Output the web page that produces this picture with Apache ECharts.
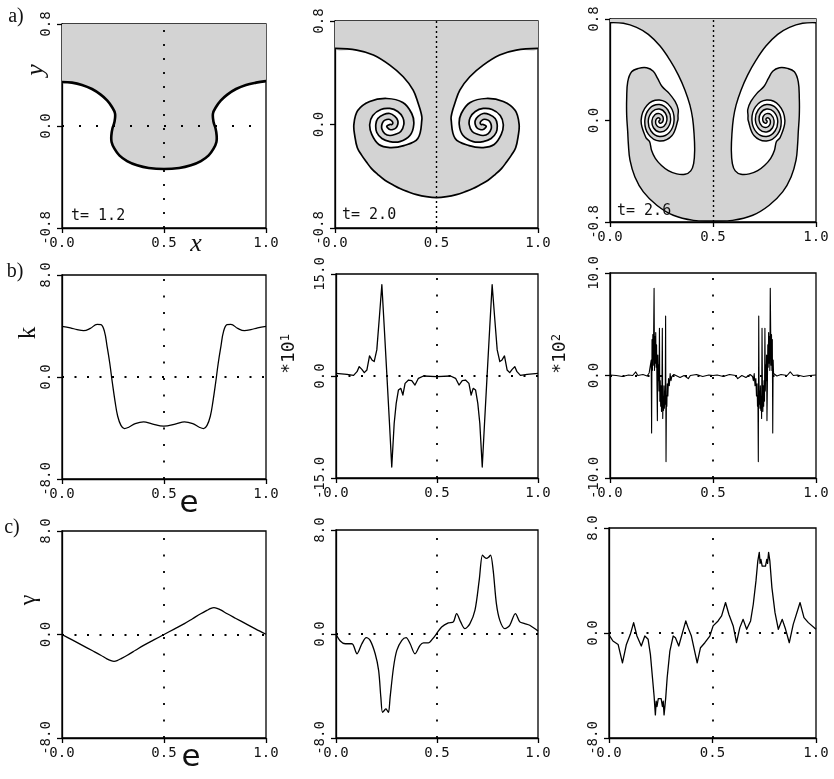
<!DOCTYPE html>
<html>
<head>
<meta charset="utf-8">
<script src="https://cdn.jsdelivr.net/npm/echarts/dist/echarts.min.js"></script>
<style>
  html, body { margin: 0; padding: 0; background: #fff; }
  #chart { width: 834px; height: 779px; }
</style>
</head>
<body>
<div id="chart"></div>
<script>
// ---- tick values ----
const eTicks = [0, 0.5, 1];
const yTicksInterface = [-0.8, 0, 0.8];
const yTicksK12 = [-8, 0, 8];
const yTicksK20 = [-15, 0, 15];
const yTicksK26 = [-10, 0, 10];
const yTicksGamma = [-8, 0, 8];
const timeLabels = ['t= 1.2', 't= 2.0', 't= 2.6'];

// ---- interface position (x, y) from left wall to right wall ----
const interfaceT12 = [
  [0,0.345],[0.049,0.340],[0.098,0.322],[0.147,0.290],[0.188,0.248],[0.221,0.201],[0.245,0.149],
  [0.260,0.097],[0.257,0.031],[0.247,-0.021],[0.242,-0.073],[0.243,-0.125],[0.257,-0.178],[0.281,-0.230],
  [0.319,-0.275],[0.368,-0.308],[0.425,-0.329],[0.5,-0.337],[0.575,-0.329],[0.632,-0.308],[0.681,-0.275],
  [0.719,-0.230],[0.743,-0.178],[0.757,-0.125],[0.758,-0.073],[0.753,-0.021],[0.743,0.031],[0.740,0.097],
  [0.755,0.149],[0.779,0.201],[0.812,0.248],[0.853,0.290],[0.902,0.322],[0.951,0.340],[1,0.352]
];

const interfaceT20 = [
  [0,0.588],[0.107,0.575],[0.189,0.537],[0.270,0.459],[0.336,0.369],[0.385,0.266],[0.410,0.163],[0.424,0.090],
  [0.428,0.039],[0.408,-0.108],[0.339,-0.163],[0.270,-0.178],[0.216,-0.155],[0.181,-0.077],[0.171,0.000],
  [0.186,0.070],[0.226,0.116],[0.270,0.124],[0.309,0.101],[0.334,0.054],[0.339,0.000],[0.324,-0.054],
  [0.295,-0.077],[0.270,-0.085],[0.245,-0.070],[0.231,-0.035],[0.231,0.000],[0.240,0.027],[0.255,0.039],
  [0.270,0.039],[0.280,0.027],[0.285,0.012],[0.280,0.000],[0.270,0.000],
  [0.255,-0.012],[0.260,-0.027],[0.270,-0.039],[0.285,-0.039],[0.300,-0.027],[0.309,0.000],[0.309,0.031],
  [0.295,0.062],[0.270,0.085],[0.240,0.077],[0.211,0.046],[0.201,0.000],[0.206,-0.062],[0.231,-0.108],
  [0.270,-0.132],[0.319,-0.132],[0.369,-0.085],[0.388,0.000],[0.378,0.085],[0.334,0.170],[0.255,0.201],
  [0.171,0.178],[0.112,0.108],[0.093,0.000],[0.098,-0.093],
  [0.110,-0.180],[0.131,-0.237],[0.155,-0.290],[0.180,-0.341],[0.210,-0.385],[0.246,-0.431],[0.285,-0.466],
  [0.320,-0.495],[0.360,-0.520],[0.402,-0.542],[0.450,-0.558],[0.500,-0.565],
  [0.550,-0.558],[0.598,-0.542],[0.640,-0.520],[0.680,-0.495],[0.715,-0.466],[0.754,-0.431],[0.790,-0.385],
  [0.820,-0.341],[0.845,-0.290],[0.869,-0.237],[0.890,-0.180],
  [0.902,-0.093],[0.907,0.000],[0.888,0.108],[0.829,0.178],[0.745,0.201],[0.666,0.170],[0.622,0.085],
  [0.612,0.000],[0.631,-0.085],[0.681,-0.132],[0.730,-0.132],[0.769,-0.108],[0.794,-0.062],[0.799,0.000],
  [0.789,0.046],[0.760,0.077],[0.730,0.085],[0.705,0.062],[0.691,0.031],[0.691,0.000],[0.700,-0.027],
  [0.715,-0.039],[0.730,-0.039],[0.740,-0.027],[0.745,-0.012],[0.730,0.000],
  [0.720,0.000],[0.715,0.012],[0.720,0.027],[0.730,0.039],[0.745,0.039],[0.760,0.027],[0.769,0.000],
  [0.769,-0.035],[0.755,-0.070],[0.730,-0.085],[0.705,-0.077],[0.676,-0.054],[0.661,0.000],[0.666,0.054],
  [0.691,0.101],[0.730,0.124],[0.774,0.116],[0.814,0.070],[0.829,0.000],[0.819,-0.077],[0.784,-0.155],
  [0.730,-0.178],[0.661,-0.163],[0.592,-0.108],[0.572,0.039],
  [0.576,0.090],[0.590,0.163],[0.615,0.266],[0.664,0.369],[0.730,0.459],[0.811,0.537],[0.893,0.575],[1,0.588]
];

const interfaceT26 = [
  [0,0.771],[0.065,0.766],[0.129,0.734],[0.186,0.679],[0.243,0.587],[0.291,0.476],[0.332,0.358],[0.364,0.239],
  [0.388,0.121],[0.401,0.016],[0.408,-0.103],[0.411,-0.234],[0.406,-0.339],[0.392,-0.397],[0.364,-0.424],
  [0.324,-0.421],[0.283,-0.395],[0.250,-0.355],[0.220,-0.298],[0.202,-0.236],
  [0.192,-0.166],[0.174,-0.134],[0.151,0],[0.180,0.121],[0.240,0.162],[0.294,0.108],[0.311,0],[0.288,-0.095],
  [0.240,-0.126],[0.199,-0.083],[0.186,0],[0.206,0.070],[0.240,0.090],[0.269,0.057],[0.276,0],[0.262,-0.045],
  [0.240,-0.054],[0.224,-0.032],[0.222,0],[0.230,0.019],[0.240,0.018],[0.243,0.006],[0.240,0],
  [0.237,-0.006],[0.240,-0.018],[0.250,-0.019],[0.258,0],[0.256,0.032],[0.240,0.054],[0.218,0.045],[0.204,0],
  [0.211,-0.057],[0.240,-0.090],[0.274,-0.070],[0.294,0],[0.281,0.083],[0.240,0.126],[0.192,0.095],[0.169,0],
  [0.186,-0.108],[0.240,-0.162],[0.300,-0.121],[0.329,0],[0.330,0.040],
  [0.331,0.088],[0.316,0.150],[0.288,0.212],[0.252,0.270],[0.231,0.332],[0.210,0.389],[0.178,0.416],
  [0.138,0.411],[0.105,0.384],[0.086,0.305],[0.081,0.174],[0.081,0.042],[0.086,-0.089],[0.089,-0.182],
  [0.097,-0.313],[0.121,-0.445],[0.162,-0.563],[0.227,-0.668],[0.307,-0.747],[0.405,-0.787],[0.5,-0.792],
  [0.595,-0.787],[0.693,-0.747],[0.773,-0.668],[0.838,-0.563],[0.879,-0.445],[0.903,-0.313],[0.911,-0.182],
  [0.914,-0.089],[0.919,0.042],[0.919,0.174],[0.914,0.305],[0.895,0.384],[0.862,0.411],[0.822,0.416],
  [0.790,0.389],[0.769,0.332],[0.748,0.270],[0.712,0.212],[0.684,0.150],[0.669,0.088],
  [0.670,0.040],[0.671,0],[0.700,-0.121],[0.760,-0.162],[0.814,-0.108],[0.831,0],[0.808,0.095],[0.760,0.126],
  [0.719,0.083],[0.706,0],[0.726,-0.070],[0.760,-0.090],[0.789,-0.057],[0.796,0],[0.782,0.045],[0.760,0.054],
  [0.744,0.032],[0.742,0],[0.750,-0.019],[0.760,-0.018],[0.763,-0.006],[0.760,0],
  [0.757,0.006],[0.760,0.018],[0.770,0.019],[0.778,0],[0.776,-0.032],[0.760,-0.054],[0.738,-0.045],[0.724,0],
  [0.731,0.057],[0.760,0.090],[0.794,0.070],[0.814,0],[0.801,-0.083],[0.760,-0.126],[0.712,-0.095],[0.689,0],
  [0.706,0.108],[0.760,0.162],[0.820,0.121],[0.849,0],[0.826,-0.134],[0.808,-0.166],
  [0.798,-0.236],[0.780,-0.298],[0.750,-0.355],[0.717,-0.395],[0.676,-0.421],[0.636,-0.424],[0.608,-0.397],
  [0.594,-0.339],[0.589,-0.234],[0.592,-0.103],[0.599,0.016],[0.612,0.121],[0.636,0.239],[0.668,0.358],
  [0.709,0.476],[0.757,0.587],[0.814,0.679],[0.871,0.734],[0.935,0.766],[1,0.771]
];

// ---- curvature k(e) ----
const curvatureT12 = [
  [0,3.97],[0.041,3.86],[0.074,3.71],[0.106,3.63],[0.139,3.81],[0.172,4.13],[0.191,4.10],[0.208,3.58],
  [0.221,2.40],[0.234,1.10],[0.247,-0.47],[0.260,-1.91],[0.273,-3.08],[0.289,-3.79],[0.306,-4.05],
  [0.327,-3.94],[0.359,-3.66],[0.400,-3.52],[0.441,-3.68],[0.498,-3.86],[0.559,-3.68],[0.600,-3.52],
  [0.641,-3.66],[0.673,-3.94],[0.694,-4.05],[0.711,-3.79],[0.727,-3.08],[0.740,-1.91],[0.753,-0.47],
  [0.766,1.10],[0.779,2.40],[0.792,3.58],[0.809,4.10],[0.828,4.13],[0.861,3.81],[0.894,3.63],[0.926,3.71],
  [0.959,3.86],[1,3.97]
];
// values in units of 10^1
const curvatureT20 = [
  [0,0.39],[0.054,0.25],[0.087,0.10],[0.104,0.64],[0.115,1.38],[0.128,0.98],[0.140,0.49],[0.153,0.89],
  [0.166,2.95],[0.178,2.36],[0.189,2.12],[0.202,3.84],[0.215,8.76],[0.227,13.43],[0.239,7.1],[0.252,0.05],
  [0.265,-7.1],[0.276,-13.38],[0.288,-6.98],[0.298,-4.03],[0.309,-2.07],[0.321,-1.82],[0.331,-2.80],
  [0.342,-1.08],[0.359,-0.59],[0.375,-0.69],[0.391,-1.33],[0.408,-0.34],[0.433,0],[0.498,-0.1],[0.567,0],
  [0.592,-0.34],[0.609,-1.33],[0.625,-0.69],[0.641,-0.59],[0.658,-1.08],[0.669,-2.80],[0.679,-1.82],
  [0.691,-2.07],[0.702,-4.03],[0.712,-6.98],[0.724,-13.38],[0.735,-7.1],[0.748,0.05],[0.761,7.1],
  [0.773,13.43],[0.785,8.76],[0.798,3.84],[0.811,2.12],[0.822,2.36],[0.834,2.95],[0.847,0.89],[0.860,0.49],
  [0.872,0.98],[0.885,1.38],[0.896,0.64],[0.913,0.10],[0.946,0.25],[1.0,0.39]
];
// values in units of 10^2
const curvatureT26 = [
  [0,0.05],[0.03,0.0],[0.06,-0.10],[0.09,0.05],[0.11,0.0],[0.125,0.35],[0.135,0.0],[0.16,0.10],[0.18,-0.05],
  [0.19,0.25],
  [0.198,0.2],[0.200,1.5],[0.202,-5.6],[0.204,3.5],[0.206,0.5],[0.208,4.0],[0.210,1.0],[0.212,4.4],[0.214,8.5],
  [0.216,0.5],[0.218,3.8],[0.220,1.2],[0.222,4.2],[0.224,0.8],[0.226,3.0],[0.228,-1.0],[0.230,-4.4],[0.232,2.0],
  [0.234,-0.5],[0.236,1.0],[0.238,-1.5],[0.240,4.6],[0.242,-2.5],[0.244,-0.5],[0.246,-3.0],[0.248,-1.0],
  [0.250,-3.5],[0.252,-1.5],[0.254,4.6],[0.256,-4.2],[0.258,-2.0],[0.260,-3.4],[0.262,-1.0],[0.264,-3.2],
  [0.266,-1.5],[0.268,-2.8],[0.270,5.8],[0.272,-8.4],[0.274,-2.0],[0.276,-3.0],[0.278,-0.8],[0.281,-2.0],
  [0.284,-0.3],[0.288,-1.0],[0.292,0.2],[0.296,-0.5],[0.300,-0.1],
  [0.31,0.1],[0.34,-0.2],[0.36,0.0],[0.38,-0.3],[0.39,0.0],[0.42,0.1],[0.45,-0.1],[0.48,0.05],[0.50,0.0],
  [0.52,0.05],[0.55,-0.1],[0.58,0.1],[0.61,0.0],[0.62,-0.3],[0.64,0.0],[0.66,-0.2],[0.68,0.1],
  [0.692,-0.1],[0.696,-0.5],[0.700,0.2],[0.704,-1.0],[0.708,-0.3],[0.711,-2.0],[0.714,-0.8],[0.716,-3.0],
  [0.718,-2.0],[0.720,-8.4],[0.722,5.8],[0.724,-2.8],[0.726,-1.5],[0.728,-3.2],[0.730,-1.0],[0.732,-3.4],
  [0.734,-2.0],[0.736,-4.2],[0.738,4.6],[0.740,-1.5],[0.742,-3.5],[0.744,-1.0],[0.746,-3.0],[0.748,-0.5],
  [0.750,-2.5],[0.752,4.6],[0.754,-1.5],[0.756,1.0],[0.758,-0.5],[0.760,2.0],[0.762,-4.4],[0.764,-1.0],
  [0.766,3.0],[0.768,0.8],[0.770,4.2],[0.772,1.2],[0.774,3.8],[0.776,0.5],[0.778,8.5],[0.780,4.4],[0.782,1.0],
  [0.784,4.0],[0.786,0.5],[0.788,3.5],[0.790,-5.6],[0.792,1.5],[0.794,0.2],
  [0.80,0.25],[0.81,-0.05],[0.83,0.10],[0.86,0.0],[0.875,0.35],[0.89,0.0],[0.91,0.05],[0.94,-0.10],[0.97,0.0],
  [1.0,0.05]
];

// ---- vortex sheet strength gamma(e) ----
const strengthT12 = [
  [0,0],[0.05,-0.42],[0.10,-0.84],[0.15,-1.26],[0.19,-1.6],[0.22,-1.88],[0.24,-2.02],[0.255,-2.07],
  [0.27,-2.02],[0.29,-1.86],[0.32,-1.6],[0.36,-1.22],[0.40,-0.84],[0.45,-0.42],[0.50,0],[0.55,0.42],
  [0.60,0.84],[0.64,1.22],[0.68,1.6],[0.71,1.86],[0.73,2.02],[0.745,2.07],[0.76,2.02],[0.78,1.88],
  [0.81,1.6],[0.85,1.26],[0.90,0.84],[0.95,0.42],[1,0.02]
];
const strengthT20 = [
  [0,0],[0.021,-0.54],[0.046,-0.75],[0.079,-0.75],[0.104,-1.52],[0.128,-0.75],[0.150,-0.28],[0.169,-0.49],
  [0.194,-1.52],[0.211,-2.80],[0.222,-4.86],[0.230,-6.02],[0.238,-5.9],[0.247,-5.76],[0.254,-5.9],
  [0.260,-6.02],[0.268,-4.86],[0.285,-2.54],[0.301,-1.26],[0.326,-0.49],[0.347,-0.28],[0.367,-0.75],
  [0.391,-1.52],[0.416,-0.87],[0.433,-0.69],[0.457,-0.69],[0.479,-0.36],[0.498,0.03],[0.523,0.54],
  [0.556,0.85],[0.581,0.93],[0.597,1.57],[0.617,0.93],[0.638,0.41],[0.663,0.80],[0.688,1.83],[0.709,4.14],
  [0.725,6.07],[0.735,5.9],[0.745,5.81],[0.755,5.9],[0.765,6.07],[0.778,4.91],[0.794,2.34],[0.811,1.05],
  [0.836,0.41],[0.860,0.67],[0.888,1.57],[0.910,0.93],[0.934,0.80],[0.959,0.67],[1.0,0.23]
];
const strengthT26 = [
  [0,-0.15],[0.019,-0.61],[0.044,-0.87],[0.065,-2.27],[0.084,-0.87],[0.103,-0.10],[0.119,0.79],[0.135,-0.23],
  [0.156,-0.99],[0.173,-0.23],[0.189,-0.48],[0.200,-1.63],[0.210,-3.41],[0.218,-4.84],[0.224,-6.24],
  [0.228,-5.2],[0.232,-5.6],[0.238,-5.0],[0.245,-4.94],[0.252,-5.0],[0.258,-5.6],[0.262,-5.2],[0.266,-6.24],
  [0.274,-4.94],[0.281,-3.41],[0.294,-1.38],[0.310,-0.23],[0.321,-0.36],[0.337,-0.99],[0.355,0.03],
  [0.371,0.92],[0.382,0.41],[0.398,-0.23],[0.426,-2.27],[0.442,-1.12],[0.463,-0.74],[0.487,-0.23],
  [0.503,0.54],[0.527,0.92],[0.544,1.30],[0.563,2.32],[0.579,1.43],[0.600,0.54],[0.616,-0.74],[0.632,0.41],
  [0.648,1.04],[0.665,0.28],[0.684,0.92],[0.697,2.19],[0.710,3.97],[0.719,5.50],[0.726,6.14],[0.730,5.3],
  [0.734,5.6],[0.740,5.1],[0.748,5.12],[0.756,5.1],[0.762,5.6],[0.766,5.3],[0.771,6.14],[0.777,5.50],
  [0.787,3.46],[0.802,1.55],[0.818,0.28],[0.837,1.04],[0.853,0.28],[0.871,-0.74],[0.890,0.66],[0.923,2.32],
  [0.942,1.17],[0.963,0.79],[1.0,0.28]
];

// ---- layout: plot boxes [left, top, width, height] ----
const boxes = [
  [62, 24, 204, 204], [335, 21, 203, 207], [610, 19, 206, 203],
  [62, 275, 204, 204], [336, 274, 202, 204], [610, 273, 206, 205],
  [62, 531, 204, 207], [336, 530, 202, 208], [609, 528, 207, 210]
];

const MONO = '"DejaVu Sans Mono", "Liberation Mono", monospace';
const SERIF = '"Liberation Serif", "DejaVu Serif", serif';
const INK = '#111';
const SHADE = '#d3d3d3';

const panels = [
  { y: yTicksInterface, data: interfaceT12, fill: true, width: 2.6, smooth: 0.38, vDash: [2, 12], hDash: [2, 15] },
  { y: yTicksInterface, data: interfaceT20, fill: true, width: 1.7, smooth: 0.38, vDash: [2, 3], vWidth: 1.4 },
  { y: yTicksInterface, data: interfaceT26, fill: true, width: 1.45, smooth: 0.38, vDash: [2, 3], vWidth: 1.4 },
  { y: yTicksK12, data: curvatureT12, width: 1.3, smooth: 0.4, vDash: [2, 14.5], hDash: [2, 10.5] },
  { y: yTicksK20, data: curvatureT20, width: 1.3, vDash: [2, 14.5], hDash: [2, 10.5] },
  { y: yTicksK26, data: curvatureT26, width: 1.1, vDash: [2, 14.5], hDash: [2, 10.5] },
  { y: yTicksGamma, data: strengthT12, width: 1.3, smooth: 0.3, vDash: [2, 14.5], hDash: [2, 10.5] },
  { y: yTicksGamma, data: strengthT20, width: 1.3, smooth: 0.3, vDash: [2, 14.5], hDash: [2, 10.5] },
  { y: yTicksGamma, data: strengthT26, width: 1.3, vDash: [2, 14.5], hDash: [2, 10.5] }
];

const fmt = v => v.toFixed(1);
const grid = [], xAxis = [], yAxis = [], series = [];

// custom-drawn shape from a list of (x, y) values, mapped through the panel's axes
function shapeSeries(i, kind, pts, smooth, paint, z) {
  return {
    type: 'custom', xAxisIndex: i, yAxisIndex: i, data: [[eTicks[1], 0]], clip: true, z: z, silent: true,
    renderItem: function (params, api) {
      return { type: kind, shape: { points: pts.map(q => api.coord(q)), smooth: smooth }, style: paint };
    }
  };
}

panels.forEach((p, i) => {
  const b = boxes[i];
  grid.push({ left: b[0], top: b[1], width: b[2], height: b[3], show: true,
              borderColor: '#000', borderWidth: 1.3, backgroundColor: 'transparent' });
  xAxis.push({
    gridIndex: i, type: 'value', min: eTicks[0], max: eTicks[2], interval: eTicks[1] - eTicks[0],
    axisLine: { show: true, onZero: false, lineStyle: { color: '#000', width: 1.3 } },
    axisTick: { show: true, length: 5, lineStyle: { color: '#000', width: 1.3 } },
    axisLabel: { formatter: fmt, color: INK, fontFamily: MONO, fontSize: 14, margin: 8,
                 showMinLabel: true, showMaxLabel: true },
    splitLine: { show: false }
  });
  yAxis.push({
    gridIndex: i, type: 'value', min: p.y[0], max: p.y[2], interval: p.y[1] - p.y[0],
    axisLine: { show: true, onZero: false, lineStyle: { color: '#000', width: 1.3 } },
    axisTick: { show: true, length: 5, lineStyle: { color: '#000', width: 1.3 } },
    axisLabel: { formatter: fmt, color: INK, fontFamily: MONO, fontSize: 14, margin: 9, rotate: 90,
                 showMinLabel: true, showMaxLabel: true },
    splitLine: { show: false }
  });

  // dotted guide lines at e = 0.5 and at zero
  const guides = [];
  if (p.vDash) guides.push({ xAxis: eTicks[1], lineStyle: { type: p.vDash, width: p.vWidth || 1.8, color: '#000' } });
  if (p.hDash) guides.push({ yAxis: p.y[1], lineStyle: { type: p.hDash, width: 1.8, color: '#000' } });
  const guideMark = { silent: true, symbol: ['none', 'none'], label: { show: false }, z: 2, animation: false,
                      data: guides };

  if (p.fill) {
    // heavy fluid: between the interface and the top of the box
    const top = p.y[2];
    const outline = p.data.concat([[eTicks[2], top], [eTicks[0], top]]);
    series.push(shapeSeries(i, 'polygon', outline, p.smooth, { fill: SHADE, stroke: null }, 1));
    series.push({ type: 'line', xAxisIndex: i, yAxisIndex: i, data: [], symbol: 'none', silent: true,
                  z: 2, markLine: guideMark });
    series.push(shapeSeries(i, 'polyline', p.data, p.smooth,
      { fill: null, stroke: '#000', lineWidth: p.width, lineJoin: 'round', lineCap: 'round' }, 3));
  } else {
    series.push({
      type: 'line', xAxisIndex: i, yAxisIndex: i, data: p.data, symbol: 'none', showSymbol: false,
      smooth: p.smooth || false, clip: true, z: 3, silent: true,
      lineStyle: { color: '#000', width: p.width, join: 'round' },
      markLine: guideMark
    });
  }
});

// free text: panel letters, axis names, time stamps, scale factors
function txt(x, y, text, font, rot, align, rich) {
  const style = { text: text, font: font, fill: INK, align: align || 'center', verticalAlign: 'middle' };
  if (rich) style.rich = rich;
  return { type: 'text', x: x, y: y, rotation: rot || 0, silent: true, z: 10, style: style };
}
const scaleRich = {
  m: { fontFamily: MONO, fontSize: 18, fill: INK },
  s: { fontFamily: MONO, fontSize: 12, fill: INK, verticalAlign: 'top' }
};
const graphic = [
  txt(16, 17, 'a)', '20px ' + SERIF),
  txt(15, 272, 'b)', '20px ' + SERIF),
  txt(12, 528, 'c)', '20px ' + SERIF),
  txt(36, 70, 'y', 'italic 26px ' + SERIF, Math.PI / 2),
  txt(196, 244, 'x', 'italic 26px ' + SERIF),
  txt(28, 333, 'k', '25px ' + SERIF, Math.PI / 2),
  txt(189, 504, 'e', '31px "DejaVu Sans", sans-serif'),
  txt(29, 600, 'γ', '24px ' + SERIF, Math.PI / 2),
  txt(191, 758, 'e', '31px "DejaVu Sans", sans-serif'),
  txt(289, 354, '{m|*10}{s|1}', '18px ' + MONO, Math.PI / 2, 'center', scaleRich),
  txt(560, 354, '{m|*10}{s|2}', '18px ' + MONO, Math.PI / 2, 'center', scaleRich),
  txt(71, 216, timeLabels[0], '15px ' + MONO, 0, 'left'),
  txt(342, 215, timeLabels[1], '15px ' + MONO, 0, 'left'),
  txt(617, 211, timeLabels[2], '15px ' + MONO, 0, 'left')
];

const chart = echarts.init(document.getElementById('chart'), null, { renderer: 'canvas' });
chart.setOption({
  animation: false,
  backgroundColor: '#fff',
  grid: grid, xAxis: xAxis, yAxis: yAxis, series: series, graphic: graphic
});
</script>
</body>
</html>
